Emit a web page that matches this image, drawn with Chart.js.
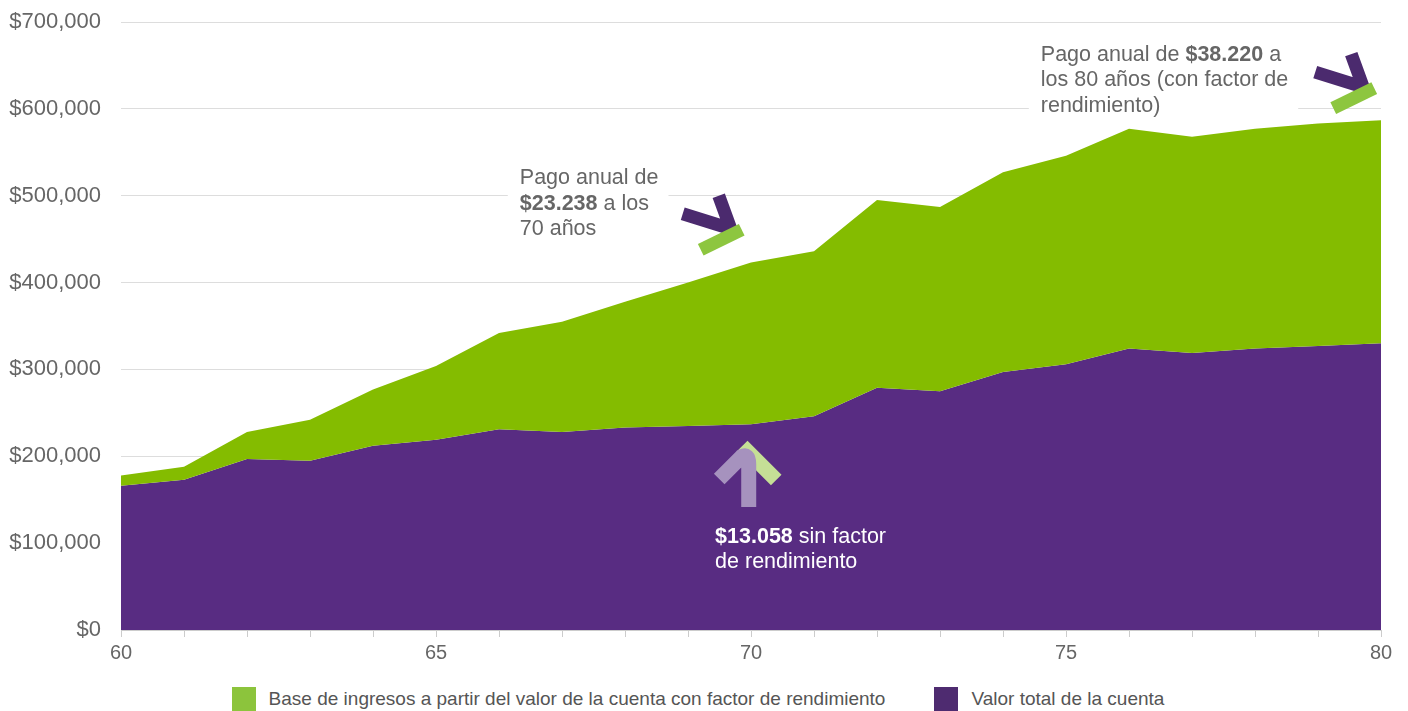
<!DOCTYPE html>
<html>
<head>
<meta charset="utf-8">
<script src="https://cdn.jsdelivr.net/npm/chart.js@4/dist/chart.umd.min.js"></script>
<style>
  html, body { margin: 0; padding: 0; background: #fff; overflow: hidden; }
  #wrap { position: relative; width: 1408px; height: 711px; }
  #legend {
    position: absolute; left: 0; top: 687px; width: 1408px; box-sizing: border-box;
    padding-right: 12px; display: flex; justify-content: center; align-items: center;
    font-family: "Liberation Sans", Arial, Helvetica, sans-serif; font-size: 19px; color: #555;
  }
  .item { display: flex; align-items: center; height: 24px; }
  .item + .item { margin-left: 49px; }
  .box { width: 24px; height: 24px; margin-right: 13px; }
</style>
</head>
<body>
<div id="wrap">
  <canvas id="areaChart" width="1408" height="665"></canvas>
  <div id="legend"></div>
</div>
<script>
// ages on the x axis
const ages = [60, 61, 62, 63, 64, 65, 66, 67, 68, 69, 70, 71, 72, 73, 74, 75, 76, 77, 78, 79, 80];
// top of the green area (valor con factor de rendimiento)
const valorConFactor = [178000, 188000, 228000, 242000, 277000, 304000, 342000, 355000, 378000, 400000, 423000,
  436000, 495000, 487000, 527000, 546000, 577000, 568000, 577000, 583000, 587000];
// purple area (valor total de la cuenta)
const valorTotal = [166000, 173000, 197000, 195000, 212000, 219000, 231000, 228000, 233000, 235000, 237000,
  246000, 279000, 275000, 297000, 306000, 324000, 319000, 324000, 327000, 330000];
const xLabelAges = [60, 65, 70, 75, 80];
const legendLabels = [
  'Base de ingresos a partir del valor de la cuenta con factor de rendimiento',
  'Valor total de la cuenta'
];

const FONT = '"Liberation Sans", Arial, Helvetica, sans-serif';
const GREEN = '#84bc00';
const PURPLE = '#582c82';
const legendColors = ['#8cc43c', '#4e2b70'];

// text notes, anchored in data units (age, dollars)
const notes = [
  { age: 66.33, value: 520000, color: '#666', bg: true, lines: [
    [['Pago anual de', false]],
    [['$23.238', true], [' a los', false]],
    [['70 años', false]]
  ]},
  { age: 74.6, value: 662000, color: '#666', bg: true, lines: [
    [['Pago anual de ', false], ['$38.220', true], [' a', false]],
    [['los 80 años (con factor de', false]],
    [['rendimiento)', false]]
  ]},
  { age: 69.43, value: 107000, color: '#ffffff', bg: false, lines: [
    [['$13.058', true], [' sin factor', false]],
    [['de rendimiento', false]]
  ]}
];
// little arrow marks, anchored in data units
const chevrons = [
  { age: 69.71, value: 462000 },
  { age: 79.75, value: 625000 }
];
const upArrow = { age: 69.94, value: 205000 };

const annotationPlugin = {
  id: 'notes',
  afterDraw(chart) {
    const ctx = chart.ctx;
    const xs = chart.scales.x, ys = chart.scales.y;
    const size = 21.5;
    ctx.save();
    // text blocks
    notes.forEach(n => {
      const x0 = xs.getPixelForValue(n.age);
      const y0 = ys.getPixelForValue(n.value);
      const lh = 25.5;
      let maxW = 0;
      n.lines.forEach(line => {
        let w = 0;
        line.forEach(([t, b]) => {
          ctx.font = (b ? 'bold ' : '') + size + 'px ' + FONT;
          w += ctx.measureText(t).width;
        });
        maxW = Math.max(maxW, w);
      });
      if (n.bg) {
        ctx.fillStyle = '#fff';
        ctx.fillRect(x0 - 12, y0 - 16, maxW + 22, lh * (n.lines.length - 1) + 32);
      }
      ctx.textBaseline = 'middle';
      ctx.fillStyle = n.color;
      n.lines.forEach((line, i) => {
        let x = x0;
        line.forEach(([t, b]) => {
          ctx.font = (b ? 'bold ' : '') + size + 'px ' + FONT;
          ctx.fillText(t, x, y0 + i * lh);
          x += ctx.measureText(t).width;
        });
      });
    });
    // chevrons pointing at the area
    ctx.lineCap = 'butt';
    ctx.lineJoin = 'round';
    chevrons.forEach(c => {
      const vx = xs.getPixelForValue(c.age);
      const vy = ys.getPixelForValue(c.value);
      ctx.strokeStyle = '#4b2a6e';
      ctx.lineWidth = 13;
      ctx.beginPath();
      ctx.moveTo(vx - 50, vy - 15);
      ctx.lineTo(vx - 2, vy);
      ctx.lineTo(vx - 14, vy - 33);
      ctx.stroke();
      ctx.strokeStyle = '#8dc63f';
      ctx.beginPath();
      ctx.moveTo(vx - 32, vy + 21);
      ctx.lineTo(vx + 9, vy + 1);
      ctx.stroke();
    });
    // up arrow
    const ax = xs.getPixelForValue(upArrow.age);
    const ay = ys.getPixelForValue(upArrow.value);
    ctx.lineWidth = 15;
    ctx.strokeStyle = '#c5df96';
    ctx.beginPath();
    ctx.moveTo(ax - 5, ay - 6);
    ctx.lineTo(ax + 29, ay + 28);
    ctx.stroke();
    ctx.strokeStyle = '#a692be';
    ctx.beginPath();
    ctx.moveTo(ax - 28, ay + 27);
    ctx.lineTo(ax - 6, ay + 5);
    ctx.quadraticCurveTo(ax + 1.5, ay + 1, ax + 1.5, ay + 12);
    ctx.lineTo(ax + 1.5, ay + 55);
    ctx.stroke();
    ctx.restore();
  }
};

const toPoints = arr => arr.map((v, i) => ({ x: ages[i], y: v }));

new Chart(document.getElementById('areaChart'), {
  type: 'line',
  data: {
    datasets: [
      {
        label: legendLabels[0],
        data: toPoints(valorConFactor),
        backgroundColor: GREEN,
        borderWidth: 0,
        pointRadius: 0,
        fill: 1
      },
      {
        label: legendLabels[1],
        data: toPoints(valorTotal),
        backgroundColor: PURPLE,
        borderWidth: 0,
        pointRadius: 0,
        fill: 'origin'
      }
    ]
  },
  options: {
    responsive: false,
    animation: false,
    layout: { padding: { top: 22, right: 27, left: 0, bottom: 0 } },
    plugins: {
      tooltip: { enabled: false },
      legend: { display: false }
    },
    scales: {
      x: {
        type: 'linear',
        min: ages[0],
        max: ages[ages.length - 1],
        afterFit: s => { s.height = 35; },
        grid: { drawOnChartArea: false, drawTicks: true, tickLength: 7, color: '#cccccc' },
        border: { display: true, color: '#cccccc' },
        ticks: {
          stepSize: 1,
          autoSkip: false,
          maxRotation: 0,
          padding: 4,
          color: '#666',
          font: { family: FONT, size: 20 },
          callback: v => xLabelAges.includes(v) ? String(v) : ''
        }
      },
      y: {
        min: 0,
        max: 700000,
        afterFit: s => { s.width = 121; },
        // invisible tick marks keep the labels 20px off the plot
        grid: { drawTicks: true, tickLength: 20, tickColor: 'rgba(0,0,0,0)', color: '#dddddd' },
        border: { display: false },
        ticks: {
          stepSize: 100000,
          padding: 0,
          color: '#666',
          font: { family: FONT, size: 22 },
          callback: v => '$' + v.toLocaleString('en-US')
        }
      }
    }
  },
  plugins: [annotationPlugin]
});

// legend below the chart
const legendEl = document.getElementById('legend');
legendLabels.forEach((text, i) => {
  const item = document.createElement('div');
  item.className = 'item';
  const box = document.createElement('span');
  box.className = 'box';
  box.style.background = legendColors[i];
  const label = document.createElement('span');
  label.textContent = text;
  item.appendChild(box);
  item.appendChild(label);
  legendEl.appendChild(item);
});
</script>
</body>
</html>
